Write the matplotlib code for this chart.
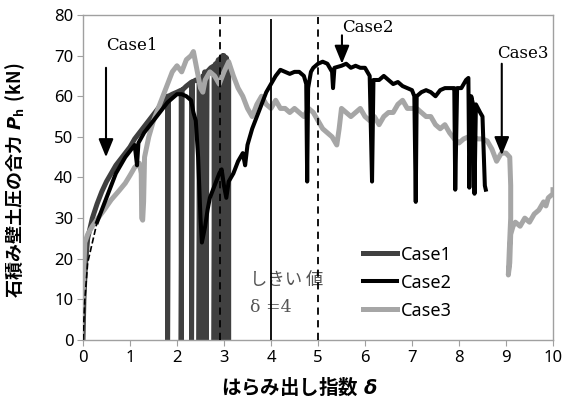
import matplotlib
matplotlib.use("Agg")
import matplotlib.pyplot as plt

plt.rcParams['font.family'] = ['Noto Sans', 'Noto Sans CJK JP', 'DejaVu Sans']
plt.rcParams['mathtext.fontset'] = 'custom'
plt.rcParams['mathtext.it'] = 'DejaVu Sans:italic:bold'
plt.rcParams['mathtext.rm'] = 'Noto Sans CJK JP:bold'
plt.rcParams['mathtext.bf'] = 'Noto Sans CJK JP:bold'

# Case1: rising curve with repeated drops to zero
case1 = [(0, 0), (0.02, 10), (0.05, 18), (0.1, 25), (0.2, 30), (0.3, 33.5), (0.4, 36.5),
         (0.5, 39), (0.6, 41), (0.7, 43), (0.8, 44.5), (0.9, 46), (1.0, 47.5), (1.1, 49.5),
         (1.2, 51), (1.3, 52.5), (1.4, 54), (1.5, 55.5), (1.6, 57), (1.7, 58.5), (1.8, 60),
         (1.8, 0), (1.82, 60), (1.9, 60.5), (2.0, 61), (2.09, 61.5), (2.09, 0), (2.11, 61.5),
         (2.2, 62.5), (2.31, 63.5), (2.31, 0), (2.33, 63.5), (2.4, 64), (2.47, 64), (2.47, 0),
         (2.49, 63.5), (2.5, 64), (2.5, 0), (2.52, 64), (2.53, 64.5), (2.53, 0), (2.55, 65),
         (2.56, 64.5), (2.56, 0), (2.58, 65), (2.59, 66), (2.59, 0), (2.61, 65), (2.62, 65.5),
         (2.62, 0), (2.64, 66), (2.72, 67), (2.79, 67.5), (2.79, 0), (2.81, 67), (2.82, 68),
         (2.82, 0), (2.84, 68), (2.85, 67.5), (2.85, 0), (2.87, 68.5), (2.88, 69), (2.88, 0),
         (2.9, 68.5), (2.91, 69), (2.91, 0), (2.93, 69.5), (2.94, 69), (2.94, 0), (2.96, 69),
         (2.97, 70), (2.97, 0), (2.99, 69.5), (3.0, 70), (3.0, 0), (3.02, 69.5), (3.03, 69),
         (3.03, 0), (3.05, 69.5), (3.06, 69), (3.06, 0), (3.08, 68.5), (3.1, 68), (3.1, 0)]

# Case2: thin start, then thick black trace
case2_start = [(0, 0), (0.04, 10), (0.1, 19), (0.2, 24), (0.3, 29)]
case2 = [(0.3, 29), (0.4, 32), (0.5, 35), (0.6, 38), (0.7, 41), (0.8, 43), (0.9, 45),
         (1.0, 46.5), (1.1, 48), (1.15, 43), (1.18, 48.5), (1.3, 51), (1.4, 52.5), (1.5, 54),
         (1.6, 55.5), (1.7, 57), (1.8, 58.5), (1.9, 59.5), (2.0, 60.5), (2.1, 60.5), (2.2, 60),
         (2.3, 59), (2.35, 56), (2.4, 54), (2.45, 45), (2.5, 30), (2.53, 24), (2.6, 28),
         (2.65, 32), (2.7, 35), (2.8, 38), (2.9, 41), (2.95, 42), (3.0, 38), (3.05, 35),
         (3.1, 39), (3.2, 41), (3.3, 44), (3.4, 46), (3.45, 43), (3.5, 48), (3.6, 52),
         (3.7, 55), (3.8, 58), (3.9, 61), (4.0, 63), (4.1, 65), (4.2, 66.5), (4.3, 66),
         (4.4, 65.5), (4.5, 66), (4.6, 66), (4.7, 65), (4.75, 63), (4.77, 39), (4.79, 62),
         (4.85, 66), (4.9, 67), (5.0, 68), (5.1, 68.5), (5.2, 68), (5.3, 66), (5.32, 62),
         (5.35, 67), (5.5, 67.5), (5.6, 68), (5.7, 67), (5.8, 67.5), (5.9, 67), (6.0, 67),
         (6.1, 65), (6.15, 39), (6.18, 64), (6.3, 64), (6.4, 65), (6.5, 64), (6.6, 63),
         (6.7, 63.5), (6.8, 62.5), (6.9, 62), (7.0, 61.5), (7.05, 60), (7.08, 34), (7.1, 60),
         (7.2, 61), (7.3, 61.5), (7.4, 61), (7.5, 60), (7.6, 61.5), (7.7, 62), (7.85, 62),
         (7.9, 62), (7.92, 37), (7.96, 62), (8.05, 62), (8.15, 64), (8.2, 64.5), (8.22, 37.5),
         (8.26, 60), (8.3, 58), (8.33, 36), (8.36, 58), (8.45, 56), (8.5, 55), (8.55, 38),
         (8.57, 37)]

case3 = [(0, 10), (0.02, 18), (0.04, 24), (0.1, 26), (0.2, 28), (0.32, 30), (0.45, 32),
         (0.6, 34.5), (0.75, 36.5), (0.9, 38.6), (1.0, 40.5), (1.1, 42.5), (1.2, 43.5),
         (1.24, 41), (1.25, 30), (1.27, 29.5), (1.29, 34), (1.31, 45), (1.4, 50), (1.5, 54),
         (1.6, 57), (1.7, 60), (1.8, 63), (1.9, 66), (2.0, 67.5), (2.1, 66), (2.2, 69),
         (2.3, 70), (2.35, 71), (2.4, 68), (2.5, 62), (2.55, 61), (2.6, 64), (2.7, 66),
         (2.8, 65), (2.9, 63), (3.0, 66), (3.1, 68.5), (3.2, 65), (3.3, 62), (3.4, 60),
         (3.5, 57), (3.6, 55), (3.7, 58), (3.8, 60), (3.9, 58), (4.0, 57), (4.1, 59),
         (4.2, 57), (4.3, 57), (4.4, 56), (4.5, 57), (4.6, 56), (4.7, 55), (4.8, 57),
         (4.9, 56), (5.0, 54), (5.1, 52), (5.2, 51), (5.3, 50), (5.4, 48), (5.45, 52),
         (5.5, 57), (5.6, 56), (5.7, 55), (5.8, 56), (5.9, 57), (6.0, 55), (6.1, 54),
         (6.2, 55), (6.3, 53), (6.4, 55), (6.5, 56), (6.6, 56), (6.7, 58), (6.8, 59),
         (6.9, 57), (7.0, 57), (7.1, 57), (7.2, 56), (7.3, 55), (7.4, 55), (7.5, 53),
         (7.6, 52), (7.7, 53), (7.8, 51), (7.9, 49.5), (8.0, 48.5), (8.1, 49.5), (8.2, 50),
         (8.3, 50), (8.4, 49.5), (8.5, 49.5), (8.6, 49), (8.7, 47), (8.8, 44), (8.9, 46),
         (9.0, 46), (9.08, 45), (9.1, 38), (9.1, 30), (9.07, 22), (9.05, 16), (9.08, 19),
         (9.1, 26), (9.15, 28), (9.2, 29), (9.3, 28), (9.4, 30), (9.5, 29), (9.6, 31),
         (9.7, 32), (9.8, 34), (9.85, 33), (9.9, 35), (10.0, 36), (10.0, 37)]

labels = ['Case1', 'Case2', 'Case3']
colors = ['#404040', '#000000', '#a6a6a6']

fig = plt.figure(figsize=(5.77, 4.05), dpi=100)
ax = fig.add_axes([0.1438, 0.1605, 0.8146, 0.8025])

x1, y1 = zip(*case1)
x2s, y2s = zip(*case2_start)
x2, y2 = zip(*case2)
x3, y3 = zip(*case3)

l1, = ax.plot(x1, y1, color=colors[0], lw=3.6, solid_joinstyle='round', zorder=2)
l3, = ax.plot(x3, y3, color=colors[2], lw=3.6, solid_joinstyle='round', zorder=3)
ax.plot(x2s, y2s, color='black', lw=1.2, ls='--', zorder=4)
l2, = ax.plot(x2, y2, color=colors[1], lw=2.9, solid_joinstyle='round', zorder=4)

# threshold lines
ax.vlines(2.92, 0, 80, colors='black', linestyles=(0, (4, 3)), lw=1.3, zorder=5)
ax.vlines(4, 0, 79, colors='black', lw=1.3, zorder=5)
ax.vlines(5, 0, 79.5, colors='black', linestyles=(0, (4, 3)), lw=1.3, zorder=5)

ax.set_xlim(0, 10)
ax.set_ylim(0, 80)
ax.set_xticks(range(0, 11))
ax.set_yticks(range(0, 81, 10))
ax.tick_params(direction='out', length=4, color='#a0a0a0', labelsize=12, pad=3)
for s in ax.spines.values():
    s.set_color('#a0a0a0')
    s.set_linewidth(1.0)

ax.set_xlabel(r'$\mathrm{はらみ出し指数}\ \delta$', fontsize=14)
ax.xaxis.set_label_coords(0.46, -0.11)
ax.set_ylabel(r'$\mathrm{石積み壁土圧の合力}\ P_\mathrm{h}\ \mathrm{(kN)}$', fontsize=13)
ax.yaxis.set_label_coords(-0.12, 0.49)

# case annotations
serif = 'DejaVu Serif'
ax.text(1.03, 72.6, 'Case1', family=serif, fontsize=12, ha='center', va='center')
ax.text(6.06, 76.8, 'Case2', family=serif, fontsize=12, ha='center', va='center')
ax.text(9.35, 70.6, 'Case3', family=serif, fontsize=12, ha='center', va='center')
arrow = dict(arrowstyle='-|>,head_width=0.45,head_length=1.1', color='black', lw=1.5,
             shrinkA=0, shrinkB=0)
ax.annotate('', xy=(0.49, 45), xytext=(0.49, 67), arrowprops=arrow)
ax.annotate('', xy=(5.51, 68), xytext=(5.51, 75), arrowprops=arrow)
ax.annotate('', xy=(8.91, 45.5), xytext=(8.91, 68), arrowprops=arrow)

ax.text(3.55, 14.8, 'しきい 値', fontsize=12.5, color='#555555', ha='left', va='center',
        family=['Noto Sans CJK JP'])
ax.text(3.55, 8.0, 'δ =4', fontsize=12.5, color='#555555', ha='left', va='center',
        family=serif)

ax.legend([l1, l2, l3], labels, loc='upper left', bbox_to_anchor=(0.596, 0.29),
          frameon=False, fontsize=13, handlelength=1.9, handletextpad=0.2,
          labelspacing=0.55, borderpad=0, borderaxespad=0)

fig.savefig('out.png', dpi=100)
